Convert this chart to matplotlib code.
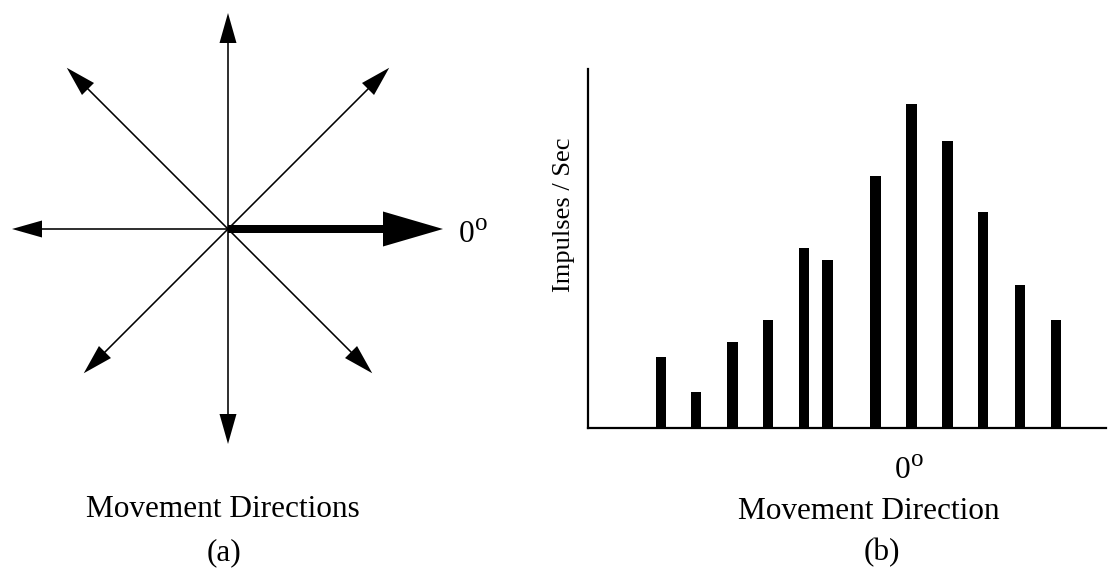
import numpy as np
import matplotlib.pyplot as plt

plt.rcParams['font.family'] = ['Liberation Serif', 'DejaVu Serif']

# ---- dados ----
# (a) direcoes das setas (graus) e comprimentos (px)
angulos = [0, 45, 90, 135, 180, 225, 270, 315]
comprimentos = [215, 228, 216, 228, 216, 204, 215, 204]
centro = (228, 229)

# (b) posicao das barras (unidades de direcao, 0 = direcao preferida) e taxas
direcoes = [-6.98, -6.0, -4.99, -4.0, -2.99, -2.34, -1.0, 0, 1.0, 2.0, 3.02, 4.02]
impulsos = [71, 36, 86, 108, 180, 168, 252, 324, 287, 216, 143, 108]

W, H = 1108, 568
FS = 22.5
fig = plt.figure(figsize=(W / 100, H / 100), dpi=100)

# ==========================================================
# (a) direcoes de movimento
# ==========================================================
ax1 = fig.add_axes([0, 0, 554 / W, 1])
ax1.set_xlim(0, 554)
ax1.set_ylim(H, 0)
ax1.set_aspect('equal')
ax1.axis('off')

for ang, L in zip(angulos, comprimentos):
    dx = L * np.cos(np.radians(ang))
    dy = -L * np.sin(np.radians(ang))
    if ang == 0:
        ax1.arrow(centro[0], centro[1], dx, dy, width=8, head_width=35,
                  head_length=60, length_includes_head=True, color='black', lw=0)
    else:
        ax1.arrow(centro[0], centro[1], dx, dy, width=1.6, head_width=17,
                  head_length=30, length_includes_head=True, color='black', lw=0)

ax1.text(459, 242, '0', fontsize=FS, ha='left', va='baseline')
ax1.text(475, 230, 'o', fontsize=18, ha='left', va='baseline')
ax1.text(223, 517, 'Movement Directions', fontsize=FS, ha='center', va='baseline')
ax1.text(224, 560, '(a)', fontsize=FS, ha='center', va='baseline')

# ==========================================================
# (b) histograma
# ==========================================================
x0, x1, y_top, y_base = 588, 1106, 69, 428
ax2 = fig.add_axes([x0 / W, (H - y_base) / H, (x1 - x0) / W, (y_base - y_top) / H])
ax2.bar(direcoes, impulsos, width=0.29, color='black')
ax2.set_xlim(-9.01, 5.42)
ax2.set_ylim(0, y_base - y_top)
for s in ['top', 'right']:
    ax2.spines[s].set_visible(False)
for s in ['left', 'bottom']:
    ax2.spines[s].set_linewidth(1.6)
ax2.set_xticks([])
ax2.set_yticks([])
ax2.set_ylabel('Impulses / Sec', fontsize=19)
ax2.yaxis.set_label_coords((575 - x0) / (x1 - x0), (y_base - 215) / (y_base - y_top))

fig.text(895 / W, 1 - 478 / H, '0', fontsize=FS, ha='left', va='baseline')
fig.text(911 / W, 1 - 466 / H, 'o', fontsize=18, ha='left', va='baseline')
fig.text(869 / W, 1 - 519 / H, 'Movement Direction', fontsize=FS, ha='center', va='baseline')
fig.text(882 / W, 1 - 560 / H, '(b)', fontsize=FS, ha='center', va='baseline')

plt.savefig('out.png', dpi=100)
